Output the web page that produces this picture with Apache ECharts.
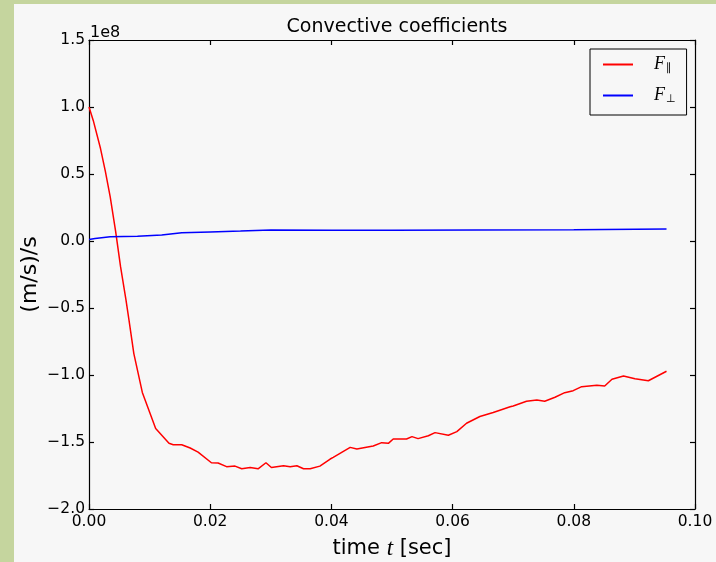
<!DOCTYPE html>
<html><head><meta charset="utf-8">
<script src="https://cdn.jsdelivr.net/npm/echarts@6/dist/echarts.min.js"></script>
<style>
html,body{margin:0;padding:0;background:#c5d59e;width:716px;height:562px;overflow:hidden}
#c{position:absolute;left:14px;top:4px;width:702px;height:558px;background:#f7f7f7}
</style></head><body><div id="c"></div>
<script>
// Values in units of 1e8 (m/s)/s
const redX = [0,0.0007,0.0019,0.0027,0.0035,0.0044,0.0052,0.0061,0.0066,0.0074,0.0088,0.0110,0.0132,0.0139,0.0153,0.0167,0.0180,0.0202,0.0213,0.0227,0.0241,0.0252,0.0266,0.0279,0.0292,0.0301,0.0321,0.0332,0.0343,0.0354,0.0365,0.0381,0.0398,0.0403,0.0431,0.0442,0.0469,0.0483,0.0494,0.0502,0.0524,0.0533,0.0543,0.0560,0.0571,0.0593,0.0607,0.0623,0.0645,0.0667,0.0695,0.0700,0.0722,0.0739,0.0752,0.0769,0.0785,0.0799,0.0813,0.0838,0.0851,0.0863,0.0882,0.0901,0.0923,0.0953];
const redY = [1.0,0.90,0.69,0.52,0.33,0.07,-0.19,-0.44,-0.59,-0.84,-1.13,-1.40,-1.51,-1.52,-1.52,-1.545,-1.575,-1.655,-1.657,-1.684,-1.68,-1.70,-1.69,-1.70,-1.655,-1.69,-1.677,-1.684,-1.677,-1.70,-1.70,-1.68,-1.627,-1.614,-1.54,-1.552,-1.53,-1.505,-1.51,-1.478,-1.478,-1.46,-1.475,-1.453,-1.43,-1.45,-1.423,-1.36,-1.31,-1.28,-1.237,-1.231,-1.196,-1.187,-1.196,-1.166,-1.132,-1.117,-1.087,-1.077,-1.082,-1.032,-1.007,-1.028,-1.043,-0.972];
const blueX = [0,0.0010,0.0035,0.0080,0.0120,0.0153,0.0200,0.0250,0.0300,0.0400,0.0500,0.0640,0.0800,0.0953];
const blueY = [0.012,0.018,0.032,0.036,0.045,0.062,0.068,0.074,0.082,0.080,0.081,0.082,0.084,0.090];
const xTicks = [0,0.02,0.04,0.06,0.08,0.10];
const yTicks = [-2.0,-1.5,-1.0,-0.5,0.0,0.5,1.0,1.5];
const names = ['F∥','F⊥'];

const redData = redX.map((x,i)=>[x,redY[i]]);
const blueData = blueX.map((x,i)=>[x,blueY[i]]);
const font = 'DejaVu Sans';
const fmtY = v => v.toFixed(1).replace('-','\u2212');
const fmtX = v => v.toFixed(2);
const tick = {show:true,inside:true,length:5,lineStyle:{color:'#000',width:1.2}};
const line = {show:true,onZero:false,lineStyle:{color:'#000',width:1.2}};

const chart = echarts.init(document.getElementById('c'));
chart.setOption({
  animation:false,
  title:{text:'Convective coefficients',left:378,top:9,textAlign:'center',
    textStyle:{fontFamily:font,fontSize:19,fontWeight:'normal',color:'#000'}},
  grid:{left:75,top:36,right:21,bottom:53,containLabel:false,outerBoundsMode:'none'},
  legend:{orient:'vertical',left:576,top:45,
    data:names,icon:'rect',itemWidth:30,itemHeight:2,itemGap:12,
    padding:[6,11,10,13],borderColor:'#000',borderWidth:1,backgroundColor:'#f7f7f7',
    formatter:n=>n==='F∥'?'{f|F}{s|∥}':'{f|F}{s|⊥}',
    textStyle:{padding:[0,0,0,16],rich:{
      f:{fontFamily:'Liberation Serif',fontStyle:'italic',fontSize:18,color:'#000',lineHeight:22},
      s:{fontFamily:'DejaVu Sans',fontSize:11,color:'#000',padding:[8,0,0,1],lineHeight:22}
    }}},
  graphic:[{type:'text',left:76,top:21,style:{text:'1e8',fontFamily:font,fontSize:16,fill:'#000'}}],
  xAxis:[{type:'value',min:0,max:0.1,interval:0.02,position:'bottom',
    name:'{n|time }{i|t}{n| [sec]}',nameLocation:'middle',nameGap:28,nameMoveOverlap:false,
    nameTextStyle:{rich:{n:{fontFamily:font,fontSize:21,color:'#000'},
      i:{fontFamily:'Liberation Serif',fontStyle:'italic',fontSize:23,color:'#000'}}},
    axisLine:line,axisTick:tick,splitLine:{show:false},
    axisLabel:{formatter:fmtX,fontFamily:font,fontSize:15.5,color:'#000',margin:5}},
   {type:'value',min:0,max:0.1,interval:0.02,position:'top',
    axisLine:line,axisTick:tick,splitLine:{show:false},axisLabel:{show:false}}],
  yAxis:[{type:'value',min:-2,max:1.5,interval:0.5,position:'left',
    name:'(m/s)/s',nameLocation:'middle',nameGap:48,nameRotate:90,nameMoveOverlap:false,
    nameTextStyle:{fontFamily:font,fontSize:22,color:'#000'},
    axisLine:line,axisTick:tick,splitLine:{show:false},
    axisLabel:{formatter:fmtY,fontFamily:font,fontSize:15.5,color:'#000',margin:4}},
   {type:'value',min:-2,max:1.5,interval:0.5,position:'right',
    axisLine:line,axisTick:tick,splitLine:{show:false},axisLabel:{show:false}}],
  series:[
    {name:names[0],type:'line',data:redData,symbol:'none',smooth:false,
     lineStyle:{color:'#ff0000',width:1.5},itemStyle:{color:'#ff0000'}},
    {name:names[1],type:'line',data:blueData,symbol:'none',smooth:false,
     lineStyle:{color:'#0000ff',width:1.5},itemStyle:{color:'#0000ff'}}
  ]
});
</script></body></html>
